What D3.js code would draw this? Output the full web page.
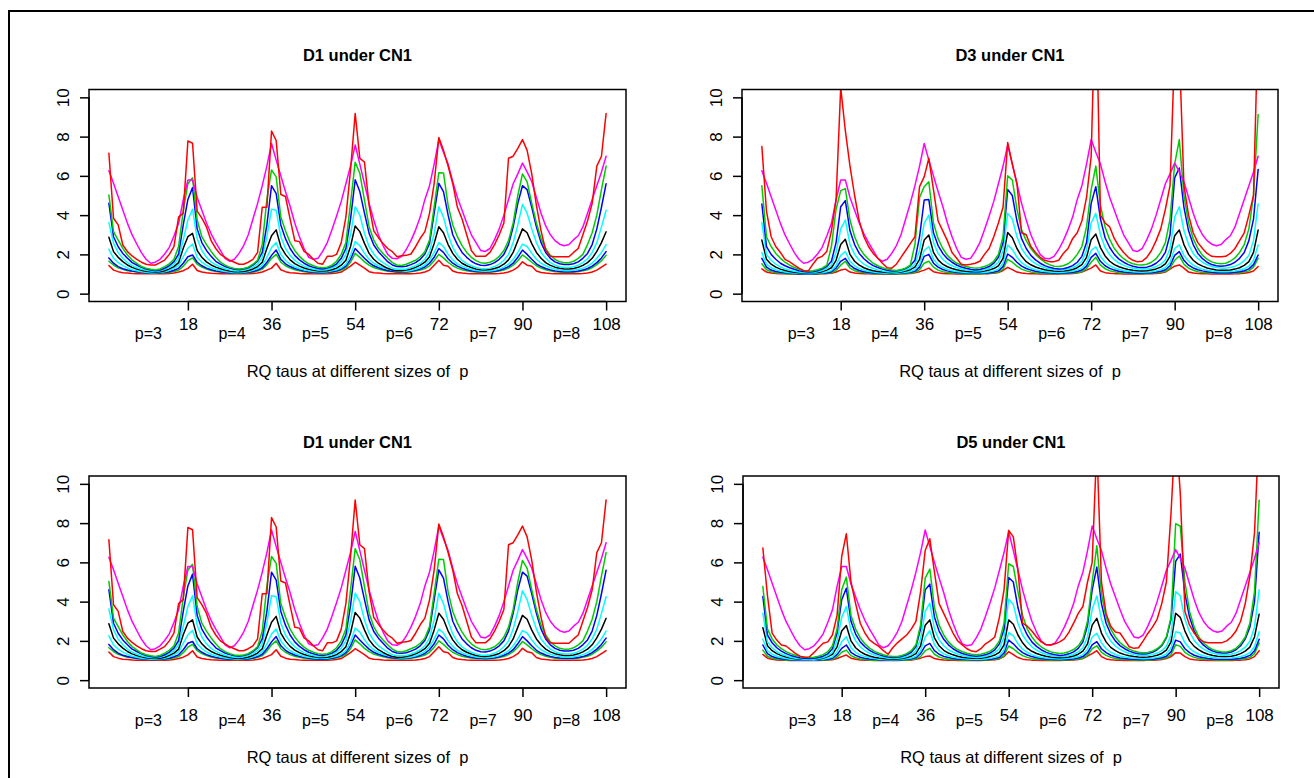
<!DOCTYPE html>
<html><head><meta charset="utf-8">
<script src="https://cdn.jsdelivr.net/npm/d3@7"></script>
<style>
body{margin:0;background:#fff}
svg{display:block}
text{font-family:"Liberation Sans",Arial,Helvetica,sans-serif;fill:#000;white-space:pre}
</style></head>
<body><svg id="chart" width="1314" height="778"></svg>
<script>
// ---------------- DATA ----------------
const xIndex = d3.range(1, 109);
const xTicks = [18, 36, 54, 72, 90, 108];
const yTicks = [0, 2, 4, 6, 8, 10];
const pLabels = ["p=3", "p=4", "p=5", "p=6", "p=7", "p=8"];
const pLabelPos = [9.5, 27.5, 45.5, 63.5, 81.5, 99.5];
const panelTitles = ["D1 under CN1", "D3 under CN1", "D1 under CN1", "D5 under CN1"];
const xTitle = "RQ taus at different sizes of  p";

const magenta = [
6.26,5.62,4.94,4.26,3.58,2.99,2.53,2.09,1.75,1.55,1.6,1.75,2.02,2.36,2.94,3.58,4.77,5.79,
5.79,4.9,4.25,3.6,3.05,2.6,2.2,1.8,1.65,1.75,2.05,2.45,3.0,3.8,4.6,5.5,6.5,7.65,
6.8,6.0,5.2,4.45,3.6,2.9,2.3,1.85,1.75,1.8,2.15,2.6,3.25,3.95,4.7,5.6,6.5,7.57,
6.6,5.6,4.6,3.75,3.0,2.45,2.0,1.8,1.78,1.9,2.25,2.7,3.25,3.9,4.8,5.5,6.6,7.85,
7.2,6.6,5.7,4.9,4.25,3.6,3.0,2.6,2.2,2.15,2.3,2.75,3.3,4.0,4.8,5.6,6.1,6.65,
6.2,5.7,4.9,4.1,3.45,3.0,2.7,2.52,2.44,2.5,2.75,2.95,3.4,4.1,4.8,5.5,6.2,7.0];

// D1
const d1RedHi = [
7.15,3.84,3.5,2.48,2.14,1.92,1.75,1.6,1.5,1.46,1.46,1.58,1.71,2.0,2.4,3.9,4.1,7.78,
7.66,4.2,3.85,3.4,2.7,2.3,2.0,1.85,1.7,1.6,1.5,1.5,1.6,1.75,2.1,4.4,4.4,8.28,
7.8,5.05,4.95,3.8,2.7,2.65,2.15,2.0,1.75,1.55,1.5,1.9,1.9,2.0,2.6,3.9,6.3,9.18,
6.9,6.7,4.5,3.2,2.85,2.55,2.3,2.14,1.88,1.93,1.95,2.02,2.39,2.82,3.16,4.09,5.62,7.95,
7.3,6.5,5.6,4.4,3.8,3.0,2.2,1.9,1.9,1.9,2.1,2.5,3.0,3.6,6.9,7.0,7.4,7.85,
7.3,6.1,4.5,3.2,2.2,1.9,1.88,1.88,1.88,1.88,2.1,2.3,3.0,3.7,4.6,6.5,7.0,9.18];
const d1GreenHi = [
5.03,3.16,2.73,2.31,1.97,1.71,1.54,1.38,1.29,1.24,1.2,1.26,1.38,1.52,1.75,2.4,4.2,5.6,
5.9,3.75,2.9,2.5,2.15,1.85,1.6,1.45,1.35,1.28,1.25,1.28,1.35,1.5,1.7,2.5,4.8,6.3,
5.95,3.9,3.2,2.6,2.2,1.9,1.68,1.52,1.42,1.35,1.32,1.35,1.45,1.65,2.0,2.6,4.6,6.7,
6.13,4.77,3.41,2.73,2.31,2.05,1.8,1.58,1.46,1.43,1.5,1.6,1.7,1.88,2.14,2.73,4.43,6.16,
6.15,4.5,3.5,2.9,2.45,2.1,1.85,1.68,1.58,1.55,1.6,1.7,1.9,2.2,2.7,3.6,5.0,6.1,
5.7,4.6,3.6,2.8,2.3,1.95,1.75,1.62,1.58,1.58,1.65,1.8,2.0,2.5,3.1,4.0,5.3,6.5];
const d1BlueHi = [
4.6,2.9,2.39,2.05,1.8,1.58,1.46,1.34,1.26,1.2,1.17,1.2,1.29,1.43,1.63,2.02,3.5,4.8,
5.4,3.3,2.6,2.2,1.9,1.65,1.5,1.38,1.3,1.24,1.22,1.25,1.32,1.45,1.65,2.1,3.5,5.5,
5.1,3.5,2.8,2.3,1.95,1.72,1.55,1.42,1.34,1.28,1.26,1.3,1.38,1.52,1.8,2.3,3.8,5.8,
5.2,4.1,3.07,2.48,2.14,1.88,1.63,1.46,1.38,1.37,1.4,1.48,1.58,1.75,2.02,2.56,4.1,5.62,
5.2,4.0,3.0,2.5,2.1,1.85,1.65,1.52,1.45,1.43,1.48,1.58,1.75,2.0,2.5,3.4,4.6,5.5,
5.3,4.4,3.4,2.6,2.1,1.8,1.62,1.52,1.48,1.48,1.52,1.62,1.8,2.05,2.5,3.3,4.4,5.6];
const d1CyanHi = [
3.62,2.56,2.09,1.8,1.58,1.43,1.32,1.24,1.19,1.15,1.14,1.17,1.24,1.34,1.49,1.8,2.73,3.75,
4.3,2.8,2.2,1.85,1.62,1.47,1.36,1.27,1.21,1.17,1.16,1.19,1.25,1.35,1.5,1.85,2.9,4.3,
4.25,2.9,2.3,1.95,1.7,1.53,1.4,1.31,1.25,1.21,1.2,1.23,1.3,1.42,1.62,2.0,3.0,4.43,
4.0,3.07,2.39,2.02,1.75,1.58,1.43,1.29,1.24,1.24,1.26,1.33,1.42,1.55,1.75,2.14,3.07,4.43,
3.9,3.0,2.35,1.95,1.7,1.53,1.42,1.33,1.28,1.27,1.3,1.38,1.5,1.7,2.0,2.6,3.5,4.55,
4.1,3.3,2.6,2.1,1.8,1.58,1.45,1.37,1.33,1.33,1.37,1.45,1.58,1.78,2.1,2.6,3.4,4.25];
const d1Black = [
2.87,2.14,1.85,1.63,1.46,1.34,1.26,1.19,1.14,1.12,1.1,1.12,1.17,1.26,1.38,1.58,2.31,2.9,
3.07,2.2,1.85,1.62,1.46,1.35,1.27,1.2,1.15,1.12,1.11,1.13,1.18,1.26,1.38,1.6,2.3,2.95,
3.25,2.4,2.0,1.72,1.53,1.4,1.31,1.24,1.19,1.16,1.15,1.17,1.22,1.3,1.45,1.7,2.4,3.45,
3.16,2.56,2.05,1.75,1.55,1.41,1.29,1.2,1.17,1.17,1.2,1.26,1.34,1.45,1.6,1.88,2.56,3.41,
3.1,2.5,2.05,1.75,1.55,1.42,1.33,1.26,1.22,1.21,1.23,1.28,1.36,1.5,1.72,2.1,2.7,3.3,
3.1,2.55,2.1,1.8,1.58,1.44,1.35,1.29,1.25,1.25,1.28,1.34,1.44,1.58,1.8,2.15,2.6,3.15];
const d1Cyan2 = [
2.26,1.8,1.58,1.43,1.31,1.22,1.17,1.12,1.09,1.07,1.07,1.09,1.12,1.19,1.29,1.44,1.88,2.31,
2.53,1.85,1.6,1.44,1.32,1.24,1.18,1.13,1.1,1.08,1.08,1.09,1.13,1.19,1.28,1.45,1.85,2.35,
2.6,2.0,1.7,1.5,1.37,1.28,1.21,1.16,1.13,1.11,1.1,1.12,1.16,1.22,1.32,1.5,1.95,2.65,
2.45,2.05,1.75,1.55,1.42,1.32,1.25,1.19,1.15,1.13,1.14,1.18,1.24,1.33,1.46,1.7,2.1,2.6,
2.4,2.0,1.72,1.52,1.4,1.3,1.23,1.18,1.15,1.14,1.15,1.19,1.25,1.35,1.5,1.75,2.1,2.52,
2.4,2.05,1.75,1.55,1.42,1.32,1.25,1.2,1.17,1.17,1.19,1.23,1.3,1.4,1.56,1.8,2.1,2.5];
const d1Blue2 = [
1.82,1.55,1.38,1.27,1.2,1.15,1.12,1.09,1.07,1.05,1.05,1.07,1.09,1.12,1.19,1.29,1.55,1.88,
1.97,1.6,1.42,1.3,1.22,1.16,1.12,1.09,1.07,1.06,1.06,1.07,1.09,1.13,1.2,1.32,1.6,1.95,
2.22,1.75,1.52,1.38,1.28,1.21,1.16,1.12,1.09,1.08,1.07,1.09,1.12,1.17,1.25,1.4,1.75,2.3,
2.05,1.8,1.58,1.42,1.32,1.24,1.18,1.14,1.11,1.1,1.11,1.14,1.19,1.26,1.36,1.55,1.85,2.3,
2.1,1.78,1.55,1.4,1.3,1.22,1.17,1.13,1.11,1.1,1.11,1.14,1.19,1.27,1.38,1.55,1.85,2.22,
2.0,1.75,1.52,1.38,1.28,1.21,1.16,1.13,1.11,1.11,1.12,1.15,1.2,1.28,1.4,1.58,1.82,2.14];
const d1Green2 = [
1.65,1.46,1.32,1.24,1.17,1.14,1.1,1.09,1.07,1.05,1.05,1.05,1.06,1.08,1.13,1.2,1.4,1.68,
1.82,1.5,1.35,1.25,1.18,1.13,1.1,1.08,1.06,1.05,1.05,1.06,1.07,1.1,1.15,1.25,1.48,1.8,
2.0,1.6,1.42,1.3,1.22,1.16,1.12,1.09,1.07,1.06,1.06,1.07,1.09,1.13,1.2,1.32,1.6,2.05,
1.85,1.62,1.45,1.33,1.25,1.19,1.14,1.11,1.09,1.08,1.09,1.11,1.15,1.2,1.28,1.42,1.68,2.0,
1.82,1.6,1.42,1.3,1.22,1.17,1.13,1.1,1.09,1.08,1.09,1.11,1.15,1.2,1.3,1.45,1.68,1.97,
1.8,1.6,1.42,1.3,1.22,1.16,1.12,1.1,1.09,1.09,1.1,1.12,1.16,1.22,1.32,1.48,1.68,1.95];
const d1Red2 = [
1.43,1.2,1.12,1.07,1.05,1.03,1.02,1.02,1.01,1.01,1.01,1.01,1.02,1.03,1.05,1.1,1.17,1.29,
1.5,1.18,1.1,1.06,1.04,1.03,1.02,1.02,1.01,1.01,1.01,1.01,1.02,1.03,1.05,1.1,1.2,1.3,
1.55,1.22,1.12,1.07,1.05,1.03,1.02,1.02,1.01,1.01,1.01,1.02,1.03,1.05,1.1,1.25,1.4,1.6,
1.45,1.3,1.12,1.07,1.05,1.03,1.02,1.02,1.01,1.01,1.01,1.02,1.03,1.05,1.1,1.2,1.45,1.7,
1.45,1.4,1.15,1.08,1.05,1.03,1.02,1.02,1.01,1.01,1.01,1.02,1.03,1.05,1.1,1.2,1.35,1.62,
1.45,1.4,1.15,1.08,1.05,1.03,1.02,1.02,1.01,1.01,1.01,1.02,1.03,1.05,1.1,1.2,1.35,1.5];

// D3
const d3RedHi = [
7.5,4.2,2.9,2.4,2.1,1.75,1.62,1.45,1.3,1.17,1.15,1.5,1.8,1.9,2.15,3.2,4.8,10.5,
8.3,6.5,5.0,3.7,2.9,2.4,2.05,1.8,1.55,1.32,1.3,1.5,1.85,2.2,2.55,2.9,5.45,5.95,
6.9,5.3,3.7,3.2,2.7,2.1,1.8,1.5,1.46,1.5,1.55,1.65,2.0,2.3,2.9,3.6,4.4,7.7,
6.6,5.6,3.1,3.0,2.4,2.1,1.85,1.7,1.63,1.63,1.7,2.05,2.3,2.8,3.1,3.7,4.9,7.0,
16,4.0,3.6,3.4,2.8,2.4,2.1,1.85,1.7,1.62,1.65,1.85,2.2,2.7,3.3,4.3,5.5,12.5,
12.5,5.5,4.0,3.1,2.6,2.3,2.05,1.9,1.88,1.88,1.9,2.05,2.3,2.7,3.1,4.0,5.0,14];
const d3GreenHi = [
5.5,2.9,2.4,2.05,1.8,1.6,1.45,1.33,1.24,1.18,1.15,1.17,1.22,1.3,1.45,2.4,4.3,5.25,
5.35,3.75,2.9,2.35,2.0,1.75,1.55,1.42,1.32,1.25,1.2,1.18,1.22,1.3,1.45,2.5,4.9,5.45,
5.7,3.6,2.8,2.3,1.95,1.72,1.56,1.45,1.38,1.33,1.3,1.32,1.38,1.48,1.65,2.0,2.9,6.0,
5.79,4.3,3.25,2.7,2.3,2.0,1.78,1.6,1.48,1.4,1.38,1.42,1.52,1.7,2.0,2.4,3.4,5.3,
6.5,4.5,3.4,2.75,2.3,2.0,1.78,1.62,1.52,1.47,1.46,1.5,1.6,1.78,2.1,2.6,3.8,6.6,
7.85,5.0,3.6,2.8,2.3,1.95,1.75,1.62,1.55,1.52,1.55,1.65,1.82,2.1,2.5,3.3,5.0,9.13];
const d3BlueHi = [
4.57,2.4,2.0,1.75,1.55,1.42,1.32,1.24,1.17,1.13,1.1,1.12,1.17,1.25,1.38,1.65,2.6,4.43,
4.74,3.2,2.5,2.05,1.78,1.58,1.43,1.33,1.25,1.19,1.15,1.15,1.2,1.28,1.42,1.7,2.9,4.77,
4.8,3.1,2.45,2.05,1.78,1.6,1.46,1.36,1.29,1.24,1.21,1.23,1.29,1.38,1.55,1.85,2.6,5.31,
5.0,3.7,2.8,2.3,1.95,1.72,1.55,1.43,1.34,1.28,1.25,1.27,1.33,1.43,1.6,1.9,2.6,4.6,
5.45,3.8,2.85,2.35,2.0,1.76,1.6,1.48,1.4,1.35,1.33,1.35,1.42,1.55,1.75,2.1,3.0,5.9,
6.4,4.4,3.2,2.5,2.05,1.78,1.6,1.48,1.42,1.4,1.42,1.48,1.6,1.8,2.1,2.7,3.8,6.33];
const d3CyanHi = [
3.63,2.0,1.7,1.5,1.36,1.26,1.19,1.14,1.1,1.08,1.07,1.08,1.12,1.18,1.28,1.45,2.1,3.3,
3.75,2.5,2.0,1.7,1.5,1.37,1.28,1.21,1.16,1.12,1.1,1.1,1.14,1.2,1.3,1.5,2.2,3.58,
4.0,2.6,2.05,1.75,1.55,1.42,1.33,1.26,1.21,1.18,1.16,1.17,1.21,1.28,1.4,1.6,2.2,4.09,
3.8,2.9,2.3,1.95,1.7,1.53,1.41,1.32,1.26,1.22,1.2,1.21,1.25,1.32,1.44,1.65,2.2,3.6,
4.09,3.0,2.35,1.98,1.73,1.56,1.44,1.35,1.29,1.26,1.25,1.26,1.3,1.38,1.5,1.72,2.3,3.9,
4.43,3.2,2.5,2.05,1.78,1.6,1.47,1.38,1.33,1.3,1.3,1.33,1.4,1.5,1.68,1.95,2.7,4.57];
const d3Black = [
2.73,1.75,1.5,1.35,1.25,1.18,1.13,1.09,1.07,1.05,1.05,1.06,1.08,1.12,1.2,1.32,1.7,2.5,
2.77,2.0,1.65,1.45,1.32,1.23,1.17,1.13,1.1,1.08,1.07,1.08,1.1,1.15,1.22,1.35,1.75,2.73,
2.99,2.1,1.72,1.5,1.37,1.28,1.22,1.17,1.14,1.12,1.11,1.12,1.15,1.2,1.28,1.42,1.8,3.12,
2.85,2.3,1.9,1.63,1.47,1.36,1.28,1.22,1.18,1.15,1.14,1.15,1.18,1.23,1.32,1.48,1.85,2.75,
3.04,2.35,1.92,1.65,1.48,1.37,1.29,1.23,1.19,1.17,1.16,1.17,1.2,1.26,1.35,1.52,1.9,2.95,
3.24,2.5,2.0,1.7,1.52,1.4,1.31,1.25,1.21,1.19,1.19,1.21,1.25,1.32,1.44,1.63,2.1,3.24];
const d3Cyan2 = [
2.09,1.5,1.32,1.22,1.15,1.1,1.07,1.05,1.04,1.03,1.03,1.03,1.05,1.07,1.11,1.18,1.45,1.95,
2.14,1.65,1.42,1.28,1.2,1.14,1.1,1.07,1.05,1.04,1.04,1.04,1.06,1.09,1.13,1.22,1.5,2.2,
2.4,1.75,1.48,1.33,1.23,1.17,1.13,1.1,1.08,1.07,1.06,1.07,1.08,1.11,1.16,1.25,1.55,2.48,
2.25,1.85,1.58,1.41,1.3,1.22,1.17,1.13,1.1,1.09,1.08,1.09,1.11,1.14,1.2,1.3,1.58,2.2,
2.39,1.9,1.6,1.42,1.31,1.23,1.18,1.14,1.11,1.1,1.09,1.1,1.12,1.16,1.22,1.33,1.6,2.3,
2.48,1.95,1.65,1.45,1.33,1.25,1.19,1.15,1.13,1.12,1.12,1.13,1.16,1.2,1.27,1.4,1.7,2.48];
const d3Blue2 = [
1.8,1.35,1.2,1.13,1.09,1.06,1.04,1.03,1.02,1.02,1.02,1.02,1.03,1.05,1.07,1.12,1.3,1.65,
1.8,1.45,1.28,1.18,1.12,1.08,1.06,1.04,1.03,1.03,1.03,1.03,1.04,1.06,1.09,1.15,1.35,1.9,
2.0,1.55,1.35,1.23,1.16,1.11,1.08,1.06,1.05,1.04,1.04,1.04,1.05,1.07,1.1,1.16,1.38,2.02,
1.85,1.6,1.4,1.28,1.2,1.14,1.1,1.08,1.06,1.05,1.05,1.05,1.07,1.09,1.13,1.2,1.4,1.85,
2.05,1.65,1.42,1.29,1.2,1.14,1.1,1.08,1.06,1.05,1.05,1.06,1.07,1.1,1.14,1.22,1.42,1.95,
2.14,1.7,1.45,1.31,1.22,1.16,1.12,1.09,1.07,1.06,1.06,1.07,1.09,1.12,1.17,1.26,1.48,1.97];
const d3Green2 = [
1.52,1.22,1.12,1.07,1.05,1.03,1.02,1.01,1.01,1.01,1.01,1.01,1.02,1.03,1.04,1.07,1.18,1.45,
1.65,1.3,1.17,1.1,1.06,1.04,1.03,1.02,1.02,1.01,1.01,1.02,1.02,1.03,1.05,1.09,1.22,1.55,
1.65,1.35,1.2,1.12,1.08,1.05,1.04,1.03,1.02,1.02,1.02,1.02,1.03,1.04,1.06,1.1,1.25,1.75,
1.6,1.4,1.25,1.16,1.1,1.07,1.05,1.04,1.03,1.03,1.03,1.03,1.04,1.05,1.08,1.12,1.28,1.6,
1.85,1.45,1.27,1.17,1.11,1.07,1.05,1.04,1.03,1.03,1.03,1.03,1.04,1.06,1.09,1.14,1.3,1.7,
1.92,1.5,1.3,1.19,1.12,1.08,1.06,1.05,1.04,1.04,1.04,1.04,1.05,1.07,1.1,1.16,1.35,1.8];
const d3Red2 = [
1.26,1.1,1.05,1.03,1.02,1.01,1.0,1.0,1.0,1.0,1.0,1.0,1.0,1.01,1.02,1.04,1.1,1.2,
1.25,1.1,1.05,1.03,1.02,1.01,1.0,1.0,1.0,1.0,1.0,1.0,1.01,1.02,1.03,1.06,1.12,1.2,
1.3,1.12,1.06,1.03,1.02,1.01,1.0,1.0,1.0,1.0,1.0,1.0,1.01,1.02,1.04,1.08,1.18,1.34,
1.22,1.1,1.05,1.03,1.02,1.01,1.0,1.0,1.0,1.0,1.0,1.01,1.02,1.03,1.05,1.1,1.2,1.3,
1.46,1.15,1.07,1.04,1.02,1.01,1.0,1.0,1.0,1.0,1.0,1.01,1.02,1.03,1.05,1.1,1.25,1.4,
1.46,1.3,1.1,1.05,1.03,1.02,1.01,1.0,1.0,1.0,1.0,1.0,1.01,1.02,1.04,1.08,1.15,1.38];

// D5
const d5RedHi = [
6.73,4.3,2.4,2.04,1.79,1.74,1.55,1.36,1.22,1.17,1.18,1.4,1.65,1.88,1.95,2.3,3.3,6.3,
7.46,5.0,3.9,2.9,2.4,2.05,1.87,1.72,1.5,1.32,1.65,1.9,2.1,2.3,2.6,3.0,4.5,6.6,
7.2,5.5,3.9,3.4,2.9,2.4,2.0,1.8,1.6,1.48,1.45,1.6,1.85,2.0,2.2,3.2,4.6,7.63,
7.3,5.6,2.9,2.75,2.5,2.2,1.95,1.82,1.79,1.85,1.95,2.1,2.45,2.9,3.4,3.75,5.0,6.0,
12.0,5.0,3.4,2.75,2.45,2.4,2.05,1.7,1.62,1.65,2.0,2.38,2.7,3.1,3.9,5.0,8.5,13.0,
9.5,3.5,2.8,2.4,2.1,1.96,1.91,1.91,1.91,1.91,2.0,2.2,2.5,3.0,3.9,5.3,7.5,13.0];
const d5GreenHi = [
4.77,2.6,2.1,1.8,1.6,1.45,1.35,1.27,1.21,1.17,1.15,1.17,1.22,1.3,1.45,1.75,2.6,4.6,
5.25,3.3,2.6,2.15,1.85,1.63,1.48,1.37,1.29,1.23,1.2,1.21,1.26,1.35,1.5,1.8,2.8,5.2,
5.66,3.7,2.8,2.3,1.95,1.72,1.56,1.45,1.37,1.32,1.3,1.32,1.38,1.48,1.65,2.0,2.9,5.93,
5.79,4.5,3.3,2.6,2.2,1.9,1.7,1.55,1.45,1.39,1.36,1.38,1.45,1.56,1.75,2.1,3.0,5.0,
6.85,4.4,3.2,2.6,2.2,1.92,1.72,1.58,1.48,1.42,1.39,1.41,1.48,1.6,1.8,2.2,3.2,7.97,
7.84,5.0,3.5,2.7,2.2,1.9,1.7,1.56,1.48,1.44,1.44,1.5,1.62,1.85,2.2,2.9,4.5,9.17];
const d5BlueHi = [
4.26,2.3,1.9,1.65,1.48,1.35,1.26,1.19,1.14,1.11,1.1,1.11,1.15,1.22,1.34,1.6,2.4,4.1,
4.68,3.0,2.35,1.95,1.7,1.52,1.39,1.3,1.23,1.18,1.16,1.17,1.21,1.29,1.42,1.7,2.6,4.6,
4.89,3.2,2.5,2.08,1.8,1.6,1.46,1.36,1.29,1.24,1.22,1.24,1.29,1.38,1.54,1.85,2.6,5.23,
5.0,3.7,2.8,2.3,1.95,1.72,1.55,1.43,1.34,1.29,1.26,1.28,1.34,1.44,1.62,1.95,2.8,4.6,
5.76,3.9,2.9,2.35,2.0,1.76,1.6,1.48,1.4,1.35,1.33,1.35,1.42,1.55,1.75,2.15,3.1,6.05,
6.42,4.4,3.2,2.5,2.05,1.78,1.6,1.48,1.41,1.38,1.38,1.43,1.55,1.75,2.1,2.7,4.0,7.53];
const d5CyanHi = [
3.4,1.95,1.65,1.46,1.33,1.24,1.17,1.12,1.09,1.07,1.06,1.07,1.1,1.15,1.25,1.42,2.0,3.2,
3.75,2.5,2.0,1.7,1.5,1.37,1.28,1.21,1.16,1.12,1.1,1.11,1.14,1.2,1.3,1.5,2.1,3.5,
3.92,2.6,2.05,1.75,1.55,1.42,1.33,1.26,1.21,1.18,1.16,1.17,1.21,1.28,1.4,1.6,2.2,4.12,
3.85,2.9,2.3,1.95,1.7,1.53,1.41,1.32,1.26,1.22,1.2,1.21,1.25,1.32,1.44,1.65,2.2,3.6,
4.29,3.1,2.4,2.0,1.74,1.57,1.45,1.36,1.3,1.26,1.25,1.26,1.3,1.38,1.5,1.72,2.3,4.51,
4.3,3.1,2.45,2.02,1.76,1.58,1.46,1.37,1.32,1.29,1.29,1.32,1.39,1.5,1.68,1.98,2.7,4.6];
const d5Black = [
2.67,1.75,1.5,1.35,1.25,1.18,1.13,1.09,1.07,1.05,1.05,1.06,1.08,1.12,1.2,1.32,1.7,2.5,
2.78,2.0,1.65,1.45,1.32,1.23,1.17,1.13,1.1,1.08,1.07,1.08,1.1,1.15,1.22,1.35,1.75,2.8,
3.07,2.15,1.75,1.52,1.38,1.29,1.22,1.17,1.14,1.12,1.11,1.12,1.15,1.2,1.28,1.42,1.8,3.07,
2.85,2.3,1.9,1.63,1.47,1.36,1.28,1.22,1.18,1.15,1.14,1.15,1.18,1.23,1.32,1.48,1.85,2.8,
3.15,2.4,1.95,1.67,1.5,1.38,1.3,1.24,1.2,1.18,1.17,1.18,1.21,1.27,1.36,1.53,1.95,3.41,
3.2,2.5,2.0,1.72,1.54,1.41,1.32,1.26,1.22,1.2,1.2,1.22,1.27,1.35,1.48,1.68,2.2,3.36];
const d5Cyan2 = [
2.08,1.5,1.32,1.22,1.15,1.1,1.07,1.05,1.04,1.03,1.03,1.03,1.05,1.07,1.11,1.18,1.45,1.95,
2.21,1.65,1.42,1.28,1.2,1.14,1.1,1.07,1.05,1.04,1.04,1.04,1.06,1.09,1.13,1.22,1.5,2.2,
2.52,1.8,1.5,1.34,1.24,1.17,1.13,1.1,1.08,1.07,1.06,1.07,1.08,1.11,1.16,1.25,1.55,2.42,
2.25,1.85,1.58,1.41,1.3,1.22,1.17,1.13,1.1,1.09,1.08,1.09,1.11,1.14,1.2,1.3,1.58,2.2,
2.39,1.9,1.6,1.42,1.31,1.23,1.18,1.14,1.11,1.1,1.09,1.1,1.12,1.16,1.22,1.33,1.65,2.47,
2.4,1.9,1.62,1.44,1.32,1.24,1.19,1.15,1.13,1.12,1.12,1.13,1.16,1.2,1.27,1.4,1.7,2.47];
const d5Blue2 = [
1.79,1.35,1.2,1.13,1.09,1.06,1.04,1.03,1.02,1.02,1.02,1.02,1.03,1.05,1.07,1.12,1.3,1.62,
1.79,1.42,1.26,1.17,1.11,1.08,1.06,1.04,1.03,1.03,1.03,1.03,1.04,1.06,1.09,1.15,1.35,1.75,
1.87,1.5,1.32,1.21,1.15,1.1,1.08,1.06,1.05,1.04,1.04,1.04,1.05,1.07,1.1,1.16,1.38,2.04,
1.85,1.6,1.4,1.28,1.2,1.14,1.1,1.08,1.06,1.05,1.05,1.05,1.07,1.09,1.13,1.2,1.4,1.8,
1.96,1.6,1.4,1.27,1.19,1.13,1.1,1.08,1.06,1.05,1.05,1.06,1.07,1.1,1.14,1.22,1.45,2.04,
1.95,1.6,1.4,1.27,1.19,1.14,1.1,1.08,1.07,1.06,1.06,1.07,1.09,1.12,1.17,1.26,1.5,2.08];
const d5Green2 = [
1.53,1.22,1.12,1.07,1.05,1.03,1.02,1.01,1.01,1.01,1.01,1.01,1.02,1.03,1.04,1.07,1.18,1.42,
1.53,1.25,1.14,1.08,1.05,1.03,1.02,1.02,1.01,1.01,1.01,1.02,1.02,1.03,1.05,1.09,1.2,1.5,
1.62,1.32,1.18,1.11,1.07,1.05,1.04,1.03,1.02,1.02,1.02,1.02,1.03,1.04,1.06,1.1,1.25,1.74,
1.6,1.4,1.25,1.16,1.1,1.07,1.05,1.04,1.03,1.03,1.03,1.03,1.04,1.05,1.08,1.12,1.28,1.6,
1.75,1.42,1.26,1.16,1.1,1.07,1.05,1.04,1.03,1.03,1.03,1.03,1.04,1.06,1.09,1.14,1.3,1.8,
1.72,1.42,1.26,1.16,1.1,1.07,1.05,1.04,1.03,1.03,1.03,1.04,1.05,1.07,1.1,1.16,1.35,1.9];
const d5Red2 = [
1.31,1.12,1.06,1.03,1.02,1.01,1.0,1.0,1.0,1.0,1.0,1.0,1.0,1.01,1.02,1.04,1.1,1.2,
1.28,1.12,1.06,1.03,1.02,1.01,1.0,1.0,1.0,1.0,1.0,1.0,1.01,1.02,1.03,1.06,1.12,1.2,
1.23,1.1,1.05,1.03,1.02,1.01,1.0,1.0,1.0,1.0,1.0,1.0,1.01,1.02,1.04,1.08,1.2,1.45,
1.3,1.15,1.07,1.04,1.02,1.01,1.0,1.0,1.0,1.0,1.0,1.01,1.02,1.03,1.05,1.1,1.22,1.35,
1.5,1.2,1.08,1.04,1.02,1.01,1.0,1.0,1.0,1.0,1.0,1.01,1.02,1.03,1.05,1.1,1.2,1.4,
1.38,1.2,1.08,1.04,1.02,1.01,1.0,1.0,1.0,1.0,1.0,1.0,1.01,1.02,1.04,1.08,1.2,1.5];

const d1Series = [d1Red2, d1Green2, d1Blue2, d1Cyan2, d1Black, d1CyanHi, d1BlueHi, d1GreenHi, magenta, d1RedHi];
const d3Series = [d3Red2, d3Green2, d3Blue2, d3Cyan2, d3Black, d3CyanHi, d3BlueHi, d3GreenHi, magenta, d3RedHi];
const d5Series = [d5Red2, d5Green2, d5Blue2, d5Cyan2, d5Black, d5CyanHi, d5BlueHi, d5GreenHi, magenta, d5RedHi];
const panelSeries = [d1Series, d3Series, d1Series, d5Series];

// ---------------- STYLE / LAYOUT ----------------
const seriesColors = ["#FF0000", "#00CD00", "#0000FF", "#00FFFF", "#000000",
                      "#00FFFF", "#0000FF", "#00CD00", "#FF00FF", "#FF0000"];
const boxes = [
  {left: 89,  top: 89.5, width: 537, height: 212, tickPad: 7,  pOff: 37, tOff: 75},
  {left: 742, top: 89.5, width: 536, height: 212, tickPad: 7,  pOff: 37, tOff: 75},
  {left: 89,  top: 476,  width: 537, height: 212, tickPad: 12, pOff: 38, tOff: 75},
  {left: 743, top: 476,  width: 536, height: 212, tickPad: 12, pOff: 38, tOff: 75}
];
const font = '"Liberation Sans", Arial, Helvetica, sans-serif';

const svg = d3.select("#chart");
svg.append("rect").attr("x", 0).attr("y", 0).attr("width", 1314).attr("height", 778).attr("fill", "#fff");
svg.append("rect").attr("x", 9).attr("y", 11).attr("width", 1400).attr("height", 900)
   .attr("fill", "none").attr("stroke", "#000").attr("stroke-width", 2);

boxes.forEach((b, pi) => {
  const g = svg.append("g");
  const x = d3.scaleLinear().domain([-3.28, 112.28]).range([b.left, b.left + b.width]);
  const y = d3.scaleLinear().domain([-0.4, 10.4]).range([b.top + b.height, b.top]);
  const bottom = b.top + b.height;

  const clipId = "clip" + pi;
  svg.append("clipPath").attr("id", clipId).append("rect")
     .attr("x", b.left).attr("y", b.top).attr("width", b.width).attr("height", b.height);

  const line = d3.line().x((d, i) => x(xIndex[i])).y(d => y(d));
  const lg = g.append("g").attr("clip-path", `url(#${clipId})`);
  panelSeries[pi].forEach((s, si) => {
    lg.append("path").attr("d", line(s)).attr("fill", "none")
      .attr("stroke", seriesColors[si]).attr("stroke-width", 1.5)
      .attr("stroke-linejoin", "round").attr("stroke-linecap", "round");
  });

  g.append("rect").attr("x", b.left).attr("y", b.top).attr("width", b.width).attr("height", b.height)
   .attr("fill", "none").attr("stroke", "#000").attr("stroke-width", 1.5);

  const xa = g.append("g").attr("transform", `translate(0,${bottom})`)
    .call(d3.axisBottom(x).tickValues(xTicks).tickSize(9).tickSizeOuter(0).tickPadding(b.tickPad));
  xa.select(".domain").attr("stroke", "#000").attr("stroke-width", 1.5)
    .attr("d", `M${x(xTicks[0])},0H${x(xTicks[xTicks.length - 1])}`);
  xa.selectAll(".tick line").attr("stroke", "#000").attr("stroke-width", 1.5);
  xa.selectAll(".tick text").attr("font-family", font).attr("font-size", 17).attr("fill", "#000");

  g.selectAll(".plab").data(pLabels).enter().append("text")
    .attr("x", (d, i) => x(pLabelPos[i])).attr("y", bottom + b.pOff)
    .attr("text-anchor", "middle").attr("font-size", 16).attr("font-family", font)
    .text(d => d);

  const ya = g.append("g").attr("transform", `translate(${b.left},0)`)
    .call(d3.axisLeft(y).tickValues(yTicks).tickSize(9).tickSizeOuter(0).tickFormat(d3.format("d")));
  ya.select(".domain").attr("stroke", "#000").attr("stroke-width", 1.5)
    .attr("d", `M0,${y(yTicks[0])}V${y(yTicks[yTicks.length - 1])}`);
  ya.selectAll(".tick line").attr("stroke", "#000").attr("stroke-width", 1.5);
  ya.selectAll(".tick text").attr("font-family", font).attr("font-size", 17).attr("fill", "#000")
    .attr("x", null).attr("dy", null).attr("text-anchor", "middle")
    .attr("transform", "translate(-20,0) rotate(-90)");

  g.append("text").attr("x", b.left + b.width / 2).attr("y", b.top - 28.5)
    .attr("text-anchor", "middle").attr("font-weight", "bold").attr("font-size", 16.5)
    .attr("font-family", font).text(panelTitles[pi]);
  g.append("text").attr("x", b.left + b.width / 2).attr("y", bottom + b.tOff)
    .attr("text-anchor", "middle").attr("font-size", 16.5).attr("xml:space", "preserve")
    .attr("font-family", font).text(xTitle);
});

const allSeries = [].concat(d1Series, d3Series, d5Series);
const bad = allSeries.map(s => s.length).filter(n => n !== 108);
if (bad.length) throw new Error("series length mismatch: " + bad.join(","));
</script></body></html>
